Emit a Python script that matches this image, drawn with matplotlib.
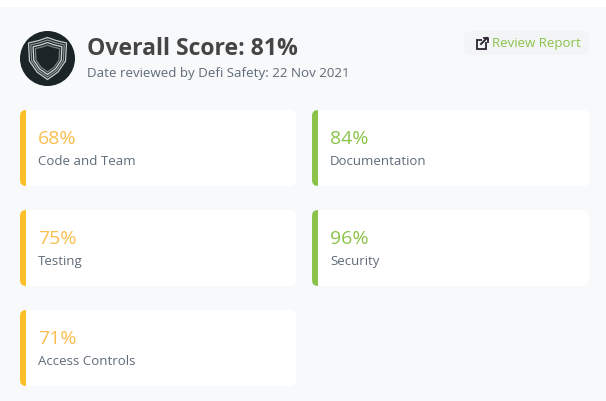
import matplotlib
matplotlib.use('Agg')
import matplotlib.pyplot as plt
from matplotlib.patches import FancyBboxPatch, Circle, Polygon, Rectangle

plt.rcParams['font.family'] = ['Open Sans', 'DejaVu Sans']

# datos
categories = ['Code and Team', 'Documentation', 'Testing', 'Security', 'Access Controls']
scores = [68, 84, 75, 96, 71]
overall = 81
review_date = '22 Nov 2021'

YELLOW = '#fbbf2a'
YELLOW_TXT = '#fbbe4e'
GREEN = '#8bc34a'
TEXT_DARK = '#454545'
TEXT_GREY = '#5f6b78'

W, H = 606, 401
fig = plt.figure(figsize=(W / 100, H / 100), dpi=100)
ax = fig.add_axes([0, 0, 1, 1])
ax.set_xlim(0, W)
ax.set_ylim(H, 0)
ax.axis('off')


def caja(x, y, w, h, r, color, z=1):
    p = FancyBboxPatch((x + r, y + r), w - 2 * r, h - 2 * r, boxstyle='round,pad=%s,rounding_size=%s' % (r, r),
                       fc=color, ec='none', zorder=z)
    ax.add_patch(p)
    return p


# fondo
caja(-12, 7, W + 24, H + 20, 10, '#f8f9fb')

# logo con el escudo
ax.add_patch(Circle((47.5, 58.5), 27.5, fc='#1b2527', ec='none', zorder=2))
for k, col in [(1.0, '#c9cdcd'), (0.88, '#8e9494'), (0.76, '#d5d8d8'), (0.64, '#7b8282')]:
    forma = [(47.5, 37.5), (56, 40.5), (66.5, 43), (65.5, 61), (58, 72), (47.5, 79.5), (37, 72), (29.5, 61), (28.5, 43), (39, 40.5)]
    pts = [(47.5 + (a - 47.5) * k, 58.5 + (b - 58.5) * k) for a, b in forma]
    ax.add_patch(Polygon(pts, closed=True, fc='none', ec=col, lw=0.9, zorder=3))

# cabecera
ax.text(87, 49, 'Overall Score: %d%%' % overall, fontsize=16.55, fontweight='bold', color=TEXT_DARK, va='center', ha='left', zorder=3)
ax.text(87, 73.5, 'Date reviewed by Defi Safety: ' + review_date, fontsize=9.6, color=TEXT_GREY, va='center', ha='left', zorder=3)

# boton de review
caja(464, 31, 125, 24, 7, '#f2f4f5')
ax.add_patch(Rectangle((476.5, 39.5), 9, 9, fc='none', ec='#2b2530', lw=1.3, zorder=3))
ax.add_patch(Rectangle((482, 36), 7, 6, fc='#f2f4f5', ec='none', zorder=4))
ax.plot([481, 487], [44, 38], color='#2b2530', lw=1.4, zorder=5)
ax.plot([483.5, 488, 488], [37.5, 37.5, 42], color='#2b2530', lw=1.3, zorder=5)
ax.text(492, 43.5, 'Review Report', fontsize=9.5, color=GREEN, va='center', ha='left', zorder=3)

# tarjetas
for i, (cat, sc) in enumerate(zip(categories, scores)):
    x = [20, 312][i % 2]
    y = 110 + 100 * (i // 2)
    w = 276 if i % 2 == 0 else 277
    col = GREEN if sc >= 80 else YELLOW
    txt = GREEN if sc >= 80 else YELLOW_TXT
    tarjeta = caja(x, y, w, 76, 6, 'white', z=2)
    barra = Rectangle((x, y), 6, 76, fc=col, ec='none', zorder=3)
    ax.add_patch(barra)
    barra.set_clip_path(tarjeta)
    ax.text(x + 18, y + 28.5, '%d%%' % sc, fontsize=14, color=txt, va='center', ha='left', zorder=4)
    ax.text(x + 18, y + 51.5, cat, fontsize=9.5, color=TEXT_GREY, va='center', ha='left', zorder=4)

fig.savefig('out.png', dpi=100, facecolor='white')
